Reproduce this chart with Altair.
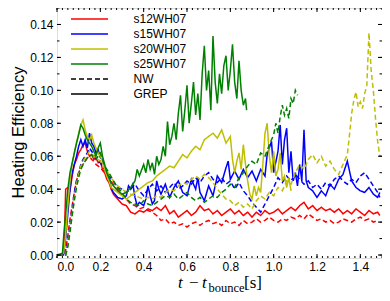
import altair as alt
import pandas as pd

# ---------------- data (t - t_bounce [s], heating efficiency) ----------------
models = ["s12WH07", "s15WH07", "s20WH07", "s25WH07"]
model_colors = ["#ff0000", "#0000ff", "#bfbf00", "#008000"]
schemes = ["NW", "GREP"]

s12_grep = [(0.00,0.000),(0.02,0.000),(0.03,0.002),(0.035,0.015),(0.04,0.040),(0.05,0.041),(0.06,0.039),(0.07,0.048),(0.08,0.055),(0.09,0.058),(0.10,0.062),(0.11,0.064),(0.12,0.067),(0.13,0.068),(0.14,0.063),(0.15,0.060),(0.16,0.061),(0.17,0.058),(0.18,0.059),(0.19,0.056),(0.20,0.057),(0.21,0.052),(0.22,0.050),(0.23,0.046),(0.24,0.044),(0.25,0.040),(0.26,0.037),(0.28,0.034),(0.30,0.031),(0.32,0.030),(0.34,0.026),(0.36,0.025),(0.38,0.027),(0.40,0.026),(0.42,0.028),(0.44,0.027),(0.46,0.029),(0.48,0.027),(0.50,0.030),(0.52,0.025),(0.54,0.027),(0.56,0.023),(0.58,0.025),(0.60,0.027),(0.62,0.024),(0.64,0.026),(0.66,0.030),(0.68,0.027),(0.70,0.028),(0.72,0.025),(0.74,0.027),(0.76,0.024),(0.78,0.026),(0.80,0.028),(0.82,0.025),(0.84,0.027),(0.86,0.024),(0.88,0.026),(0.90,0.023),(0.92,0.026),(0.94,0.024),(0.96,0.027),(0.98,0.025),(1.00,0.026),(1.02,0.028),(1.04,0.025),(1.06,0.027),(1.08,0.029),(1.10,0.027),(1.12,0.030),(1.14,0.032),(1.16,0.028),(1.18,0.030),(1.20,0.027),(1.22,0.029),(1.24,0.027),(1.26,0.028),(1.28,0.026),(1.30,0.028),(1.32,0.025),(1.34,0.027),(1.36,0.025),(1.38,0.028),(1.40,0.026),(1.42,0.024),(1.44,0.027),(1.46,0.025),(1.48,0.026),(1.49,0.024)]

s12_nw = [(0.00,0.000),(0.03,0.000),(0.04,0.003),(0.05,0.012),(0.06,0.022),(0.07,0.030),(0.08,0.038),(0.09,0.045),(0.10,0.050),(0.11,0.053),(0.12,0.055),(0.13,0.057),(0.14,0.059),(0.15,0.060),(0.16,0.058),(0.17,0.057),(0.18,0.055),(0.20,0.053),(0.22,0.050),(0.24,0.046),(0.26,0.043),(0.28,0.040),(0.30,0.037),(0.32,0.034),(0.34,0.031),(0.36,0.030),(0.38,0.028),(0.40,0.029),(0.42,0.027),(0.44,0.026),(0.46,0.024),(0.48,0.021),(0.50,0.022),(0.52,0.019),(0.54,0.020),(0.56,0.018),(0.58,0.019),(0.60,0.017),(0.62,0.019),(0.64,0.020),(0.66,0.018),(0.68,0.020),(0.70,0.021),(0.72,0.019),(0.74,0.020),(0.76,0.018),(0.78,0.021),(0.80,0.019),(0.82,0.020),(0.84,0.018),(0.86,0.021),(0.88,0.019),(0.90,0.020),(0.92,0.022),(0.94,0.020),(0.96,0.021),(0.98,0.023),(1.00,0.021),(1.02,0.020),(1.04,0.022),(1.06,0.021),(1.08,0.023),(1.10,0.022),(1.12,0.024),(1.14,0.022),(1.16,0.025),(1.18,0.023),(1.20,0.021),(1.22,0.022),(1.24,0.020),(1.26,0.021),(1.28,0.019),(1.30,0.020),(1.32,0.022),(1.34,0.021),(1.36,0.020),(1.38,0.022),(1.40,0.023),(1.42,0.021),(1.44,0.022),(1.46,0.020),(1.48,0.021)]

s15_grep = [(0.00,0.000),(0.03,0.000),(0.04,0.010),(0.05,0.025),(0.06,0.040),(0.07,0.050),(0.08,0.055),(0.09,0.060),(0.10,0.066),(0.11,0.070),(0.12,0.066),(0.13,0.070),(0.14,0.065),(0.15,0.074),(0.16,0.068),(0.17,0.066),(0.18,0.062),(0.19,0.064),(0.20,0.059),(0.21,0.058),(0.22,0.052),(0.23,0.050),(0.24,0.046),(0.25,0.041),(0.26,0.038),(0.28,0.035),(0.30,0.034),(0.32,0.036),(0.33,0.042),(0.34,0.040),(0.35,0.043),(0.36,0.035),(0.37,0.030),(0.38,0.032),(0.40,0.030),(0.41,0.034),(0.42,0.042),(0.43,0.036),(0.44,0.031),(0.45,0.033),(0.46,0.045),(0.47,0.040),(0.48,0.037),(0.50,0.043),(0.52,0.035),(0.54,0.041),(0.56,0.045),(0.58,0.038),(0.60,0.036),(0.62,0.046),(0.64,0.040),(0.65,0.047),(0.66,0.038),(0.68,0.033),(0.70,0.042),(0.72,0.036),(0.74,0.048),(0.76,0.044),(0.78,0.053),(0.79,0.057),(0.80,0.046),(0.82,0.051),(0.84,0.046),(0.86,0.052),(0.88,0.047),(0.90,0.051),(0.92,0.045),(0.94,0.052),(0.96,0.048),(0.97,0.061),(0.99,0.069),(1.00,0.050),(1.02,0.063),(1.03,0.079),(1.04,0.055),(1.05,0.070),(1.06,0.077),(1.07,0.050),(1.08,0.063),(1.09,0.045),(1.10,0.050),(1.11,0.042),(1.12,0.055),(1.13,0.045),(1.14,0.076),(1.15,0.045),(1.16,0.041),(1.18,0.039),(1.20,0.035),(1.22,0.039),(1.24,0.036),(1.26,0.043),(1.28,0.040),(1.30,0.046),(1.32,0.049),(1.34,0.057),(1.36,0.045),(1.38,0.041),(1.40,0.039),(1.42,0.038),(1.44,0.041),(1.46,0.037),(1.48,0.035),(1.49,0.038)]

s15_nw = [(0.00,0.000),(0.04,0.000),(0.05,0.008),(0.06,0.018),(0.07,0.028),(0.08,0.038),(0.09,0.045),(0.10,0.050),(0.11,0.055),(0.12,0.058),(0.13,0.060),(0.14,0.062),(0.15,0.065),(0.16,0.063),(0.17,0.061),(0.18,0.058),(0.20,0.056),(0.22,0.052),(0.24,0.048),(0.26,0.045),(0.28,0.041),(0.30,0.040),(0.32,0.038),(0.34,0.040),(0.36,0.043),(0.38,0.039),(0.40,0.036),(0.42,0.040),(0.44,0.043),(0.46,0.039),(0.48,0.042),(0.50,0.038),(0.52,0.041),(0.54,0.044),(0.56,0.040),(0.58,0.042),(0.60,0.045),(0.62,0.043),(0.64,0.047),(0.66,0.044),(0.68,0.048),(0.70,0.050),(0.72,0.046),(0.74,0.044),(0.76,0.047),(0.78,0.043),(0.80,0.045),(0.82,0.040),(0.84,0.044),(0.86,0.039),(0.88,0.036),(0.90,0.032),(0.92,0.029),(0.94,0.026),(0.96,0.031),(0.98,0.036),(1.00,0.041),(1.02,0.047),(1.04,0.044),(1.06,0.048),(1.08,0.045),(1.10,0.049),(1.12,0.046),(1.14,0.043),(1.16,0.045),(1.18,0.041),(1.20,0.043),(1.22,0.040),(1.24,0.044),(1.26,0.042),(1.28,0.046),(1.30,0.048),(1.32,0.045),(1.34,0.043),(1.36,0.046),(1.38,0.044),(1.40,0.048),(1.42,0.050),(1.44,0.046),(1.46,0.042),(1.48,0.038),(1.49,0.035)]

s20_grep = [(0.00,0.000),(0.03,0.001),(0.04,0.012),(0.05,0.030),(0.06,0.045),(0.07,0.055),(0.08,0.062),(0.09,0.068),(0.10,0.074),(0.11,0.079),(0.12,0.082),(0.13,0.076),(0.14,0.072),(0.15,0.070),(0.16,0.073),(0.17,0.068),(0.18,0.065),(0.19,0.062),(0.20,0.060),(0.21,0.057),(0.22,0.052),(0.23,0.048),(0.24,0.045),(0.25,0.041),(0.26,0.040),(0.28,0.038),(0.30,0.036),(0.32,0.034),(0.34,0.036),(0.36,0.038),(0.38,0.040),(0.40,0.042),(0.42,0.044),(0.44,0.045),(0.46,0.048),(0.48,0.050),(0.50,0.052),(0.52,0.054),(0.54,0.053),(0.56,0.057),(0.58,0.061),(0.60,0.059),(0.62,0.063),(0.64,0.066),(0.66,0.064),(0.68,0.070),(0.70,0.072),(0.72,0.074),(0.74,0.071),(0.76,0.076),(0.78,0.068),(0.80,0.072),(0.81,0.058),(0.82,0.050),(0.83,0.057),(0.84,0.062),(0.85,0.052),(0.86,0.067),(0.87,0.055),(0.88,0.045),(0.89,0.037),(0.90,0.034),(0.91,0.042),(0.92,0.036),(0.93,0.041),(0.94,0.038),(0.95,0.055),(0.96,0.074),(0.97,0.080),(0.98,0.060),(0.99,0.050),(1.00,0.063),(1.01,0.048),(1.02,0.052),(1.03,0.062),(1.04,0.045),(1.05,0.048),(1.06,0.041),(1.07,0.047),(1.08,0.039)]

s20_nw = [(0.00,0.000),(0.04,0.000),(0.05,0.006),(0.06,0.015),(0.07,0.025),(0.08,0.035),(0.09,0.043),(0.10,0.049),(0.11,0.054),(0.12,0.057),(0.13,0.059),(0.14,0.061),(0.15,0.063),(0.16,0.062),(0.17,0.060),(0.18,0.059),(0.20,0.057),(0.22,0.053),(0.24,0.049),(0.26,0.045),(0.28,0.042),(0.30,0.040),(0.32,0.038),(0.34,0.037),(0.36,0.036),(0.38,0.035),(0.40,0.034),(0.42,0.035),(0.44,0.034),(0.46,0.036),(0.48,0.035),(0.50,0.038),(0.52,0.040),(0.54,0.039),(0.56,0.042),(0.58,0.044),(0.60,0.043),(0.62,0.046),(0.64,0.048),(0.66,0.046),(0.68,0.049),(0.70,0.047),(0.72,0.044),(0.74,0.040),(0.76,0.037),(0.78,0.034),(0.80,0.033),(0.82,0.030),(0.84,0.032),(0.86,0.029),(0.88,0.031),(0.90,0.028),(0.92,0.033),(0.94,0.036),(0.96,0.034),(0.98,0.038),(1.00,0.036),(1.02,0.041),(1.04,0.039),(1.06,0.045),(1.08,0.043),(1.10,0.050),(1.12,0.055),(1.14,0.052),(1.16,0.058),(1.18,0.061),(1.20,0.056),(1.22,0.060),(1.24,0.054),(1.26,0.057),(1.28,0.052),(1.30,0.049),(1.32,0.055),(1.34,0.061),(1.35,0.073),(1.36,0.086),(1.37,0.094),(1.38,0.099),(1.39,0.090),(1.40,0.093),(1.41,0.089),(1.42,0.098),(1.43,0.103),(1.44,0.135),(1.45,0.112),(1.46,0.100),(1.47,0.083),(1.48,0.069),(1.49,0.060)]

s25_grep = [(0.00,0.000),(0.025,0.001),(0.03,0.010),(0.04,0.025),(0.05,0.040),(0.06,0.050),(0.07,0.056),(0.08,0.062),(0.09,0.068),(0.10,0.073),(0.11,0.079),(0.12,0.077),(0.13,0.073),(0.14,0.070),(0.15,0.068),(0.16,0.066),(0.17,0.063),(0.18,0.060),(0.19,0.065),(0.20,0.068),(0.21,0.060),(0.22,0.055),(0.23,0.050),(0.24,0.047),(0.25,0.044),(0.26,0.042),(0.28,0.039),(0.30,0.037),(0.32,0.038),(0.34,0.041),(0.36,0.045),(0.37,0.052),(0.38,0.048),(0.40,0.055),(0.41,0.050),(0.42,0.058),(0.43,0.052),(0.44,0.056),(0.45,0.049),(0.46,0.060),(0.47,0.055),(0.48,0.058),(0.49,0.066),(0.50,0.060),(0.51,0.081),(0.52,0.067),(0.53,0.072),(0.54,0.080),(0.55,0.070),(0.56,0.086),(0.57,0.097),(0.58,0.075),(0.59,0.088),(0.60,0.103),(0.61,0.080),(0.62,0.092),(0.63,0.105),(0.64,0.085),(0.65,0.098),(0.66,0.082),(0.67,0.110),(0.68,0.127),(0.69,0.100),(0.70,0.112),(0.71,0.088),(0.72,0.133),(0.73,0.105),(0.74,0.092),(0.75,0.110),(0.76,0.098),(0.77,0.115),(0.78,0.121),(0.79,0.100),(0.80,0.112),(0.81,0.128),(0.82,0.105),(0.83,0.095),(0.84,0.118),(0.85,0.100),(0.86,0.091),(0.87,0.095),(0.875,0.088)]

s25_nw = [(0.00,0.000),(0.04,0.000),(0.05,0.005),(0.06,0.014),(0.07,0.024),(0.08,0.033),(0.09,0.041),(0.10,0.047),(0.11,0.052),(0.12,0.055),(0.13,0.057),(0.14,0.059),(0.15,0.060),(0.16,0.061),(0.17,0.059),(0.18,0.058),(0.19,0.060),(0.20,0.062),(0.21,0.058),(0.22,0.054),(0.24,0.050),(0.26,0.045),(0.28,0.041),(0.30,0.038),(0.32,0.034),(0.34,0.032),(0.36,0.031),(0.38,0.030),(0.40,0.033),(0.42,0.031),(0.44,0.030),(0.46,0.032),(0.48,0.034),(0.50,0.036),(0.52,0.035),(0.54,0.037),(0.56,0.034),(0.58,0.036),(0.60,0.038),(0.62,0.035),(0.64,0.033),(0.66,0.035),(0.68,0.032),(0.70,0.034),(0.72,0.036),(0.74,0.035),(0.76,0.038),(0.78,0.040),(0.80,0.043),(0.82,0.041),(0.84,0.047),(0.86,0.050),(0.88,0.054),(0.90,0.057),(0.92,0.055),(0.94,0.062),(0.96,0.060),(0.98,0.067),(1.00,0.073),(1.01,0.080),(1.02,0.074),(1.03,0.084),(1.04,0.091),(1.05,0.085),(1.06,0.089),(1.07,0.083),(1.08,0.095),(1.09,0.092),(1.10,0.100),(1.11,0.097)]

x_major = [0.0, 0.2, 0.4, 0.6, 0.8, 1.0, 1.2, 1.4]
x_minor = [round(i * 0.025, 3) for i in range(61)]
y_major = [0.00, 0.02, 0.04, 0.06, 0.08, 0.10, 0.12, 0.14]
y_minor = [round(i * 0.01, 2) for i in range(16)]

# ---------------- build table ----------------
series = [
    ("s12WH07", "GREP", s12_grep), ("s12WH07", "NW", s12_nw),
    ("s15WH07", "GREP", s15_grep), ("s15WH07", "NW", s15_nw),
    ("s20WH07", "GREP", s20_grep), ("s20WH07", "NW", s20_nw),
    ("s25WH07", "GREP", s25_grep), ("s25WH07", "NW", s25_nw),
]
rows = []
for m, s, pts in series:
    for t, v in pts:
        rows.append({"t": t, "v": v, "model": m, "scheme": s})
df = pd.DataFrame(rows)

W, H = 325, 250
SANS = "Liberation Sans"
SERIF = "Liberation Serif"

xscale = alt.Scale(domain=[0, 1.5], nice=False, zero=False)
yscale = alt.Scale(domain=[-0.0018, 0.15], nice=False, zero=False)

x_axis = alt.Axis(values=x_major, format=".1f", ticks=False, domain=False, grid=False,
                  labelFont=SANS, labelFontSize=12, labelColor="black", labelPadding=3,
                  title=None)
y_axis = alt.Axis(values=y_major, format=".2f", ticks=False, domain=False, grid=False,
                  labelFont=SANS, labelFontSize=12, labelColor="black", labelPadding=4,
                  title="Heating Efficiency", titleFont=SANS, titleFontSize=16.5,
                  titleFontWeight="normal", titleColor="black", titleAngle=270,
                  titleX=-34, titleY=124, titleAlign="center", titleBaseline="alphabetic")

legend_common = dict(
    title=None, orient="none", legendX=13,
    symbolType="M-3.7,0H3.7", symbolSize=100, symbolStrokeWidth=1.6,
    symbolOffset=13.5, labelOffset=38, rowPadding=3, padding=0,
    labelFont=SANS, labelFontSize=12, labelColor="black",
)

lines = alt.Chart(df).mark_line(strokeWidth=1.5, clip=True).encode(
    x=alt.X("t:Q", scale=xscale, axis=x_axis),
    y=alt.Y("v:Q", scale=yscale, axis=y_axis),
    color=alt.Color("model:N", scale=alt.Scale(domain=models, range=model_colors),
                    legend=alt.Legend(legendY=5, **legend_common)),
    strokeDash=alt.StrokeDash("scheme:N", scale=alt.Scale(domain=schemes, range=[[5, 3], [1, 0]]),
                              legend=alt.Legend(legendY=65, symbolStrokeColor="black", **legend_common)),
)

def xticks(vals, length, top):
    y0, y1 = (0, length) if top else (H, H - length)
    return alt.Chart(pd.DataFrame({"t": vals})).mark_rule(color="black", strokeWidth=1).encode(
        x=alt.X("t:Q", scale=xscale, axis=x_axis), y=alt.value(y0), y2=alt.value(y1))

def yticks(vals, length, right):
    x0, x1 = (W, W - length) if right else (0, length)
    return alt.Chart(pd.DataFrame({"v": vals})).mark_rule(color="black", strokeWidth=1).encode(
        y=alt.Y("v:Q", scale=yscale, axis=y_axis), x=alt.value(x0), x2=alt.value(x1))

def label(txt, x, y, size, italic=False, font=SERIF):
    kw = dict(text=txt, font=font, fontSize=size, align="left", baseline="alphabetic", color="black")
    if italic:
        kw["fontStyle"] = "italic"
    return alt.Chart(alt.Data(values=[{}])).mark_text(**kw).encode(x=alt.value(x), y=alt.value(y))

layers = [
    lines,
    xticks(x_minor, 2, False), xticks(x_major, 4, False),
    xticks(x_minor, 2, True), xticks(x_major, 4, True),
    yticks(y_minor, 2.5, False), yticks(y_major, 4, False),
    yticks(y_minor, 2.5, True), yticks(y_major, 4, True),
    label("t", 121, 280, 17, italic=True),
    label("\u2212", 132, 280, 17),
    label("t", 145, 280, 17, italic=True),
    label("bounce", 151.5, 283.5, 12.5),
    label("[s]", 187, 280, 17),
]

chart = alt.layer(*layers).properties(
    width=W, height=H,
    padding={"left": 49, "top": 0, "right": 0, "bottom": 35},
    autosize=alt.AutoSizeParams(type="none"),
).configure_view(stroke="black", strokeWidth=1).configure(background="white")

chart.save("out.html", embed_options={"renderer": "svg", "actions": False})
